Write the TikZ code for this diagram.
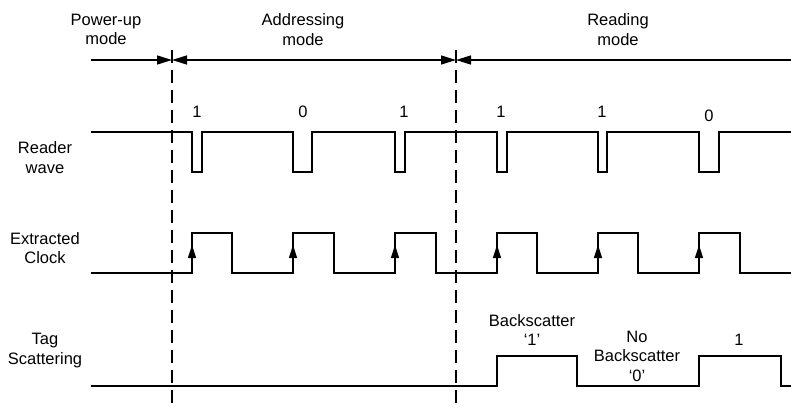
\documentclass[tikz,border=0pt]{standalone}
\usepackage{fontspec}
\setmainfont{Liberation Sans}
\usetikzlibrary{arrows.meta}

\begin{document}
\begin{tikzpicture}[x=1pt,y=-1pt,
  lbl/.style={align=center,inner sep=0pt,font=\fontsize{16.5}{19.5}\selectfont},
  wave/.style={line width=1.4pt,line join=miter},
  bound/.style={line width=1.8pt,dash pattern=on 13pt off 7pt},
  modearr/.style={line width=1.4pt},
  tip/.style={line width=1.4pt,-{Triangle[length=13pt,width=8pt]}}]
\useasboundingbox (0,0) rectangle (791,407);
% mode boundaries
\coordinate(b1top) at (172,50);\coordinate(b1bot) at (172,407);
\coordinate(b2top) at (456,50);\coordinate(b2bot) at (456,407);
\draw[bound](b1top)--(b1bot);
\draw[bound](b2top)--(b2bot);
\coordinate(m0) at (91,60);\coordinate(m1) at (172,60);
\coordinate(m2) at (456,60);\coordinate(m3) at (791,60);
\draw[modearr,-{Triangle[length=15pt,width=9pt]}](m0)--(m1);
\draw[modearr,{Triangle[length=15pt,width=9pt]}-{Triangle[length=15pt,width=9pt]}](m1)--(m2);
\draw[modearr,{Triangle[length=15pt,width=9pt]}-](m2)--(m3);
% mode names
\node[lbl](pwr) at (106,29.5){Power-up\\mode};
\node[lbl](adr) at (303,29.5){Addressing\\mode};
\node[lbl](rdm) at (618,29.5){Reading\\mode};
% signal names
\node[lbl](rdw) at (45,157.5){Reader\\wave};
\node[lbl](clk) at (45,248){Extracted\\Clock};
\node[lbl](tag) at (45,350.5){Tag\\Scattering};
% reader wave
\draw[wave](91,132)-|(192,172)-|(202,132)-|(293,172)-|(312,132)-|(395,172)-|(405,132)
  -|(497,172)-|(507,132)-|(598,172)-|(607,132)-|(699,172)-|(719,132)--(791,132);
\node[lbl](bit1) at (197,112){1};
\node[lbl](bit2) at (303,112){0};
\node[lbl](bit3) at (404,112){1};
\node[lbl](bit4) at (501,112){1};
\node[lbl](bit5) at (602,112){1};
\node[lbl](bit6) at (709,116){0};
% extracted clock
\draw[wave](91,273)-|(192,233)-|(232,273)-|(293,233)-|(334,273)-|(395,233)-|(436,273)
  -|(497,233)-|(537,273)-|(598,233)-|(638,273)-|(699,233)-|(740,273)--(791,273);
\coordinate(e1) at (192,273);\coordinate(t1) at (192,245);
\coordinate(e2) at (293,273);\coordinate(t2) at (293,245);
\coordinate(e3) at (395,273);\coordinate(t3) at (395,245);
\coordinate(e4) at (497,273);\coordinate(t4) at (497,245);
\coordinate(e5) at (598,273);\coordinate(t5) at (598,245);
\coordinate(e6) at (699,273);\coordinate(t6) at (699,245);
\draw[tip](e1)--(t1);\draw[tip](e2)--(t2);\draw[tip](e3)--(t3);
\draw[tip](e4)--(t4);\draw[tip](e5)--(t5);\draw[tip](e6)--(t6);
% tag scattering
\draw[wave](91,386)-|(497,356)-|(577,386)-|(699,356)-|(781,386)--(791,386);
\node[lbl](bs1) at (532,330){Backscatter\\‘1’};
\node[lbl](bs0) at (637,356){No\\Backscatter\\‘0’};
\node[lbl](bs2) at (739,340){1};
\end{tikzpicture}
\end{document}
